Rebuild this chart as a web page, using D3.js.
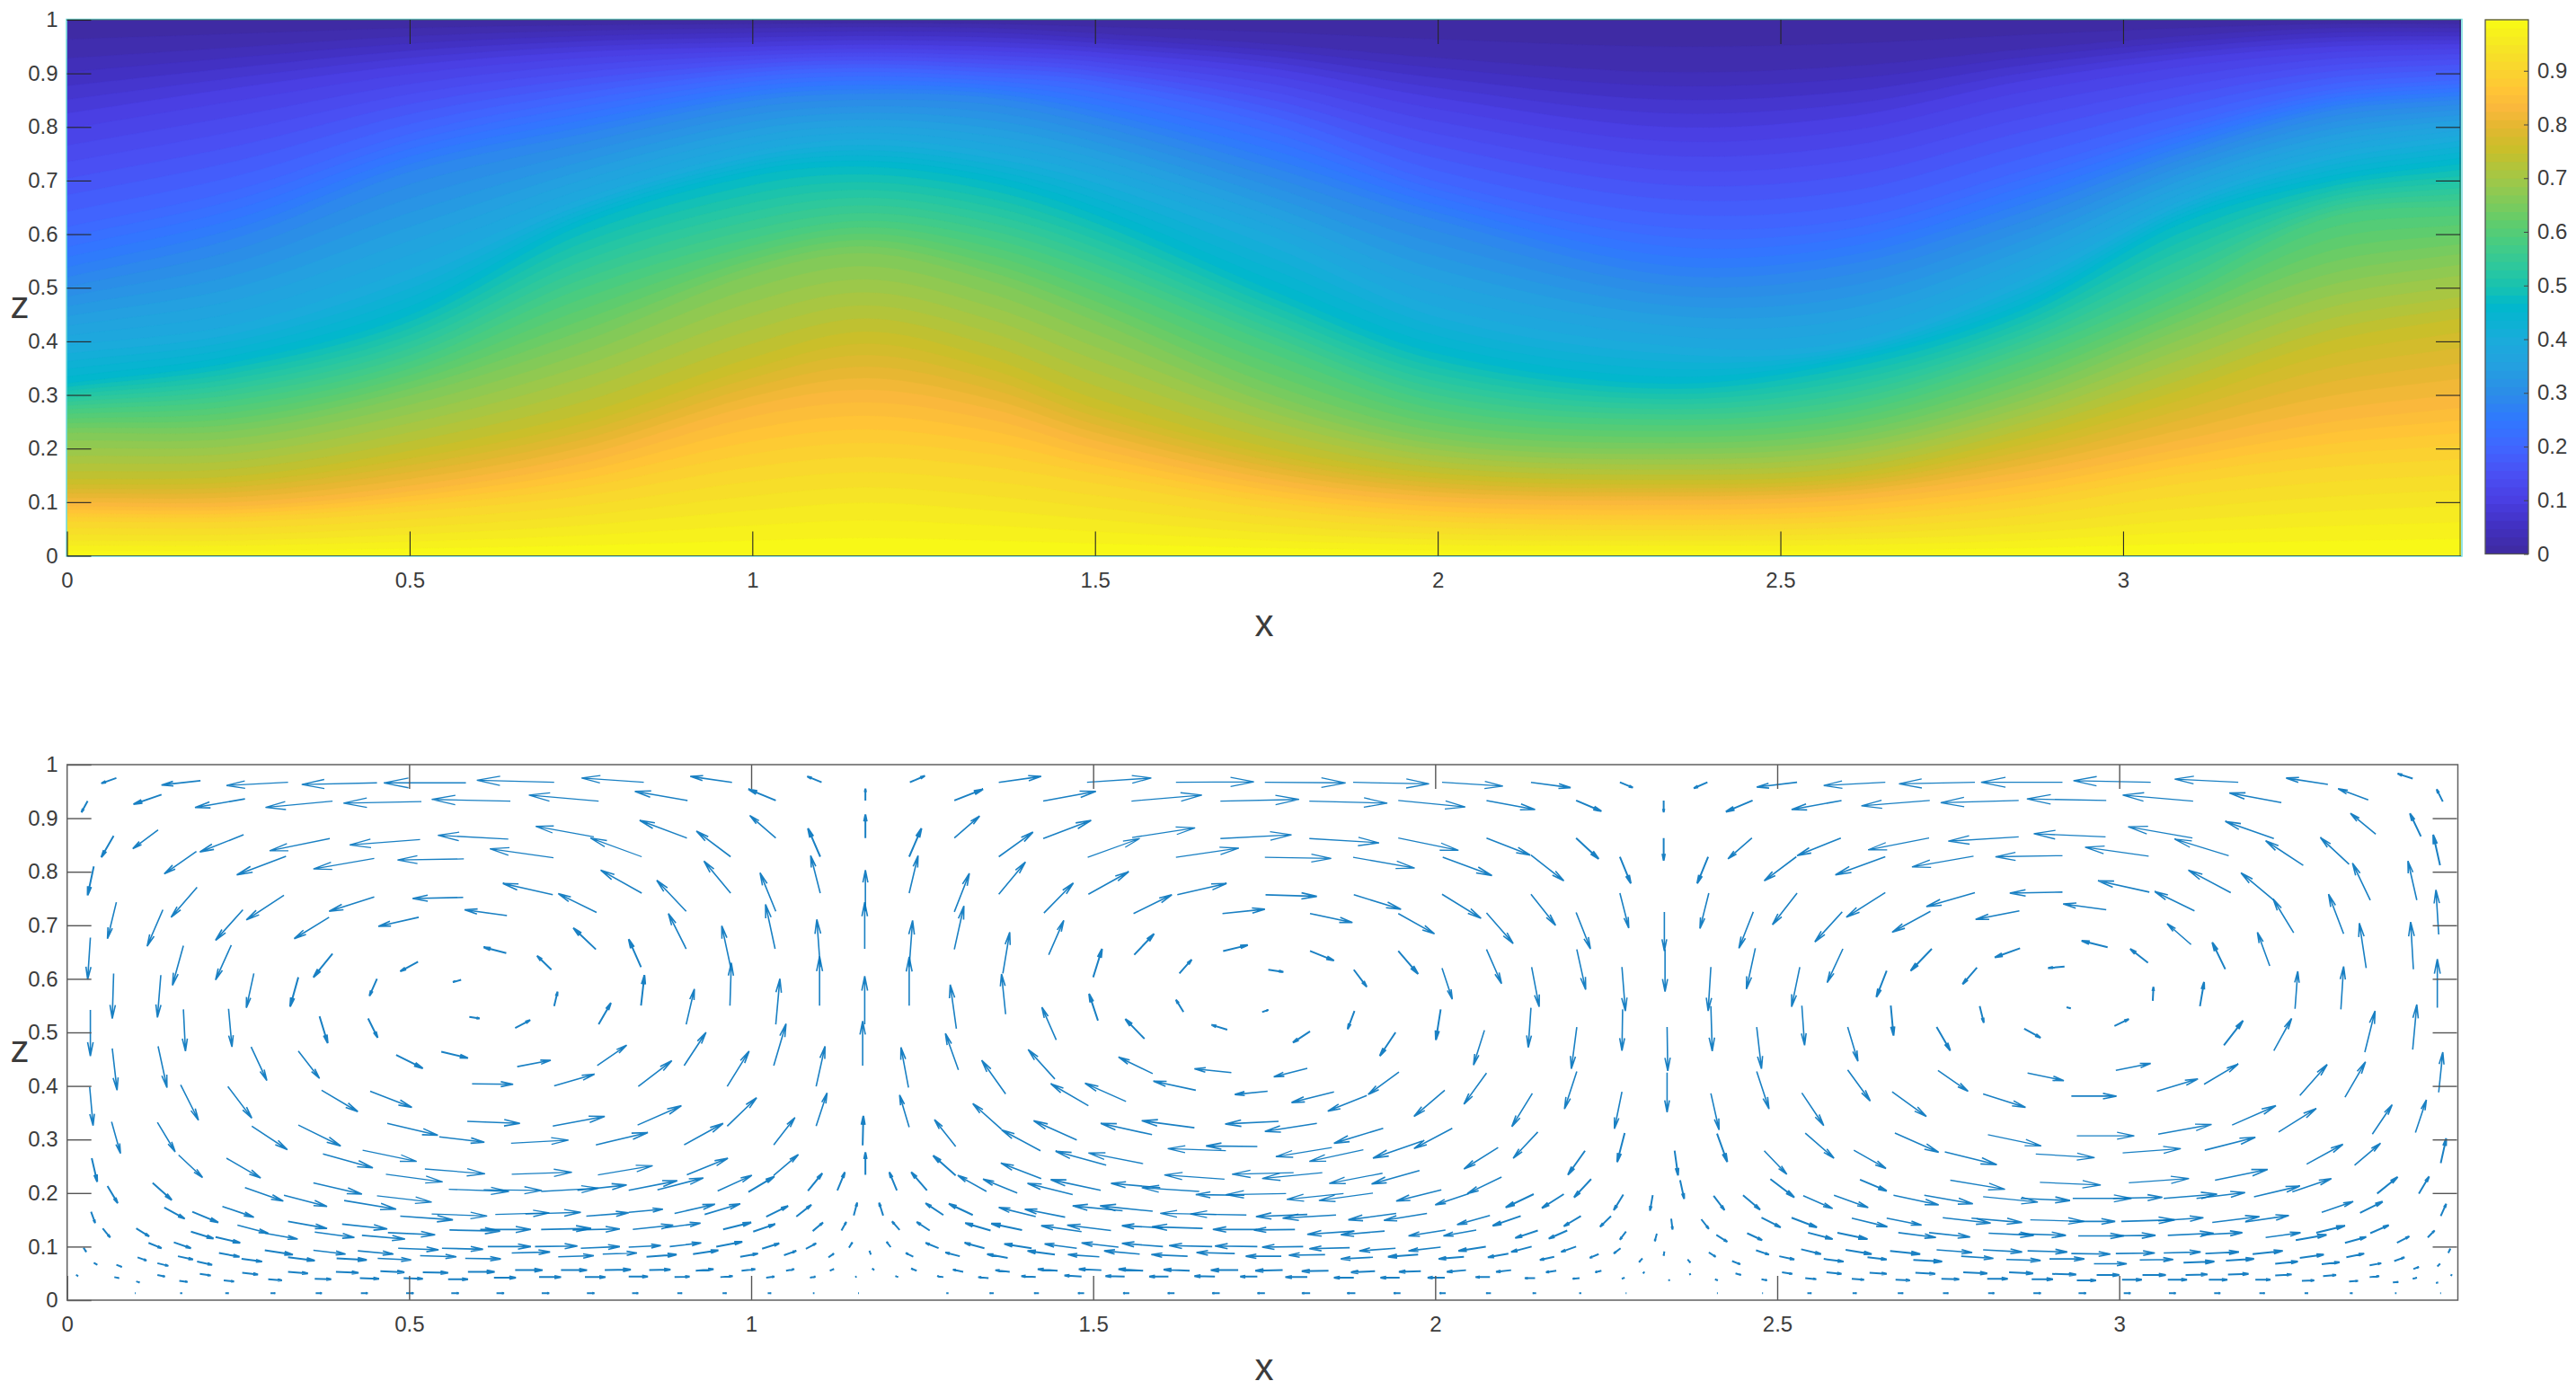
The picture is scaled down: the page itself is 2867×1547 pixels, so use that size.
<!DOCTYPE html>
<html><head><meta charset="utf-8">
<style>html,body{margin:0;background:#fff}svg{display:block}text{font-family:"Liberation Sans",Arial,sans-serif;fill:#3c3c3c}</style>
<script src="https://cdn.jsdelivr.net/npm/d3@7"></script></head><body>
<script>
// ---------- temperature panel: height z of iso-lines read at sample columns ----------
const fieldX=[0,.25,.5,.75,1,1.167,1.347,1.5,1.76,2,2.33,2.6,2.85,3.087,3.3,3.5];
const isoT=[1,.95,.9,.835,.755,.655,.58,.465,.395,.285,.2,.1,.03,0];
const isoZ=[
[0,0,0,0,0,0,0,0,0,0,0,0,0,0,0,0],
[.03,.03,.042,.06,.09,.105,.09,.072,.045,.032,.03,.032,.045,.07,.088,.1],
[.068,.068,.087,.119,.176,.195,.176,.144,.093,.068,.061,.068,.096,.144,.176,.192],
[.096,.096,.125,.18,.272,.3,.266,.208,.138,.106,.1,.11,.15,.208,.26,.29],
[.138,.144,.19,.256,.361,.41,.36,.285,.195,.15,.138,.15,.215,.304,.393,.438],
[.23,.235,.3,.4,.527,.566,.515,.44,.3,.22,.2,.22,.304,.425,.527,.566],
[.272,.29,.36,.496,.59,.623,.59,.527,.393,.285,.253,.278,.374,.5,.63,.652],
[.323,.365,.452,.62,.712,.729,.7,.64,.497,.38,.323,.365,.46,.625,.7,.735],
[.387,.425,.527,.66,.75,.773,.75,.706,.59,.457,.387,.393,.508,.66,.745,.783],
[.515,.59,.713,.783,.847,.86,.853,.815,.72,.623,.52,.54,.636,.75,.828,.85],
[.617,.687,.79,.853,.895,.904,.895,.879,.808,.7,.617,.63,.72,.808,.87,.89],
[.815,.866,.91,.936,.946,.95,.946,.936,.904,.847,.79,.81,.879,.923,.946,.952],
[.93,.95,.97,.98,.985,.987,.985,.975,.955,.93,.904,.915,.945,.97,.985,.985],
[1,1,1,1,1,1,1,1,1,1,1,1,1,1,1,1]];
const cmapV=[0,.05,.1,.15,.2,.25,.3,.35,.395,.465,.5,.54,.58,.62,.655,.7,.755,.8,.835,.87,.9,.95,1];
const cmapC=["#3f2a9f","#4130c0","#4a3ee2","#4a50f4","#4066ff","#3078ff","#2c8ce8","#24a0e0","#1caadc","#00b8cc","#18c2b0","#2fc89c","#45cc84","#60cc6c","#7ccb5c","#a0c848","#c8bf2a","#e4b730","#fab83c","#ffc535","#fbd230","#f5e625","#f9fb14"];
// ---------- ticks ----------
const xTicks=[0,.5,1,1.5,2,2.5,3];
const zTicks=[0,.1,.2,.3,.4,.5,.6,.7,.8,.9,1];
const cbTicks=[0,.1,.2,.3,.4,.5,.6,.7,.8,.9];
// ---------- velocity panel: x, z, u, v (thousandths) read row by row ----------
const r01=[72,975,-22,-10,195,970,-57,-8,323,967,-90,-6,453,966,-110,-3,583,966,-120,0,712,967,-113,4,843,967,-91,8,972,967,-61,11,1103,967,-21,11,1232,967,22,12,1362,967,62,11,1491,967,94,8,1621,967,114,1,1751,967,118,-1,1880,967,111,-3,2010,967,89,-7,2140,967,58,-10,2270,967,19,-10,2398,967,-20,-11,2529,967,-59,-9,2658,967,-90,-6,2789,967,-111,-3,2917,967,-119,0,3046,967,-113,3,3174,967,-93,6,3305,963,-61,12,3429,974,-22,9];
const r02=[30,932,-9,-21,138,944,-41,-18,260,936,-73,-16,388,932,-98,-12,518,931,-114,-3,648,932,-115,3,777,932,-102,11,907,933,-77,17,1036,933,-40,21,1167,933,0,22,1297,933,42,21,1427,932,77,18,1556,932,103,11,1686,932,115,3,1816,932,114,-4,1946,933,98,-12,2075,933,71,-17,2206,933,37,-20,2334,933,0,-22,2464,933,-39,-21,2594,933,-73,-17,2723,933,-100,-10,2853,933,-114,-4,2981,933,-116,3,3108,932,-103,11,3237,929,-76,18,3364,934,-44,21,3473,931,-9,23];
const r03=[68,867,-18,-40,133,878,-37,-35,258,869,-64,-32,384,862,-88,-23,516,860,-103,-10,645,861,-103,7,770,865,-85,20,906,863,-69,33,1036,863,-38,42,1167,863,0,44,1297,863,37,41,1427,862,70,34,1557,864,92,18,1686,862,104,7,1816,862,102,-8,1946,863,88,-23,2075,863,64,-32,2206,863,33,-39,2334,863,0,-42,2463,863,-35,-39,2593,863,-64,-33,2722,863,-89,-22,2853,865,-103,-8,2980,865,-105,6,3107,863,-94,21,3226,862,-71,32,3375,870,-37,39,3441,866,-16,43];
const r04=[39,810,-9,-54,189,838,-47,-42,320,829,-72,-35,449,825,-89,-20,580,824,-97,-2,711,826,-93,17,840,828,-75,35,970,828,-50,48,1101,828,-18,53,1231,828,18,53,1362,828,50,46,1492,827,76,35,1621,827,92,17,1751,827,97,-2,1880,827,90,-20,2011,827,72,-34,2140,831,48,-48,2270,828,16,-50,2399,828,-16,-50,2528,828,-47,-45,2658,828,-73,-34,2787,829,-90,-20,2917,830,-98,-2,3043,829,-93,17,3160,830,-79,31,3269,812,-55,46,3336,814,-42,50,3469,812,-10,57];
const r05=[72,743,-13,-68,190,771,-38,-56,317,756,-55,-46,449,753,-66,-27,579,752,-74,-2,710,757,-73,21,840,760,-60,43,970,760,-39,60,1101,760,-14,70,1231,760,13,70,1362,758,39,60,1493,758,59,42,1623,757,72,21,1752,757,75,-3,1881,757,69,-27,2010,758,57,-45,2140,758,36,-58,2270,760,13,-65,2400,760,-13,-66,2529,760,-36,-59,2658,761,-57,-46,2789,761,-71,-26,2917,762,-77,-2,3044,762,-75,21,3163,761,-62,42,3226,747,-48,51,3367,747,-26,69,3435,747,-13,73];
const r06=[140,729,-23,-68,257,729,-40,-57,383,715,-51,-40,514,715,-59,-17,643,718,-62,11,774,724,-56,35,905,726,-43,58,1036,726,-23,72,1167,726,0,77,1297,725,22,72,1428,723,43,56,1559,722,56,35,1689,722,62,8,1817,722,62,-17,1946,722,53,-38,2075,723,39,-57,2206,724,21,-68,2335,725,0,-73,2465,725,-21,-68,2595,725,-40,-56,2724,726,-56,-39,2854,727,-64,-16,2981,729,-63,11,3110,727,-58,36,3255,686,-30,63,3328,684,-22,74,3467,683,-4,83];
const r07=[34,677,-4,-78,170,662,-16,-74,240,663,-23,-65,388,647,-28,-44,513,632,-26,-18,642,648,-33,11,773,655,-33,40,905,656,-26,66,1035,656,-14,83,1166,656,0,87,1297,655,14,81,1435,645,22,64,1560,645,29,39,1690,652,36,11,1817,652,35,-18,1946,652,29,-43,2075,655,22,-64,2207,655,13,-75,2336,655,0,-79,2468,657,-13,-76,2596,656,-23,-63,2726,656,-31,-41,2855,657,-37,-17,2983,659,-38,12,3105,664,-35,39,3220,624,-18,63,3361,620,-10,84,3430,618,-4,88];
const r08=[68,610,-2,-84,137,607,-5,-79,273,610,-11,-64,338,603,-12,-55,453,600,-11,-32,576,598,-12,-4,708,617,-21,26,839,622,-18,52,970,622,-13,77,1101,622,-5,89,1231,622,5,87,1368,610,10,77,1500,603,13,53,1626,610,18,26,1756,617,22,-4,1881,617,19,-32,2010,620,15,-58,2141,622,11,-74,2273,622,5,-82,2403,622,-4,-82,2533,622,-12,-74,2660,615,-15,-49,2792,621,-21,-31,2920,623,-24,-3,3042,630,-26,26,3155,618,-19,50];
const r09=[34,542,0,-86,170,543,3,-78,236,544,5,-71,369,530,12,-50,440,526,14,-36,588,529,15,-3,655,508,22,15,712,549,5,27,777,515,18,40,839,550,5,57,969,550,2,80,1100,550,0,92,1231,550,0,91,1372,534,-6,75,1507,522,-13,50,1632,538,-11,23,1747,538,9,4,1882,540,-10,-34,2008,543,-7,-57,2140,546,-4,-74,2274,543,-1,-77,2403,549,2,-84,2536,550,4,-74,2666,550,4,-56,2796,549,6,-31,2923,547,6,-2,3049,559,1,26,3118,549,6,45,3257,544,4,70,3324,543,4,80,3465,546,0,91];
const r10=[66,470,7,-78,133,474,13,-77,269,473,23,-63,338,465,31,-51,481,458,39,-25,547,464,39,-12,658,436,49,12,775,438,43,38,905,515,12,66,1036,515,6,85,1166,515,0,90,1300,507,-9,82,1446,486,-21,61,1575,488,-28,37,1696,505,-23,9,1817,502,-25,-21,1942,500,-23,-44,2072,504,-16,-65,2207,510,-8,-78,2339,510,1,-82,2470,510,7,-78,2603,510,15,-64,2733,510,20,-44,2861,507,24,-17,2993,512,21,13,3153,476,28,46,3226,466,26,60,3359,463,15,77,3429,468,6,84,3467,388,6,75];
const r11=[902,438,32,62,1033,438,18,78,1163,438,0,83,1303,430,-19,68,1444,413,-39,55,1587,423,-50,31,1702,425,-54,7,1813,433,-49,-16,1947,426,-45,-42,2075,424,-33,-58,2207,427,-18,-70,2339,425,0,-74,2470,427,18,-70,2603,430,33,-58,2735,429,44,-39,2866,424,53,-14,2995,429,51,13,3124,403,50,38,3264,382,40,58,3330,379,30,66];
const r12=[33,398,5,-72,166,402,26,-66,235,399,35,-59,372,392,53,-40,443,390,61,-30,592,404,60,-1,712,400,59,22,835,399,49,48,965,399,32,66,1095,399,13,75,1230,397,-11,75,1372,385,-35,63,1493,363,-55,41,1548,371,-60,34,1650,392,-62,17,1755,390,-48,-6,1852,389,-62,-20,1900,382,-57,-29,2014,392,-45,-49,2142,386,-30,-62,2273,389,-11,-69,2403,386,12,-68,2536,387,32,-61,2668,389,50,-46,2801,385,62,-25,2930,381,66,0,3055,390,60,23];
const r13=[65,333,13,-59,132,332,26,-55,270,325,52,-44,338,327,62,-39,468,330,74,-22,585,334,77,-4,710,325,76,18,834,327,64,36,965,325,43,53,1095,325,16,62,1231,323,-14,60,1366,319,-42,48,1586,309,-75,21,1648,322,-77,13,1771,334,-78,-5,1827,330,-76,-15,1924,321,-72,-28,2025,321,-56,-38,2150,314,-36,-49,2277,312,-11,-54,2412,311,15,-53,2541,312,42,-47,2672,312,64,-36,2808,309,78,-21,2938,307,84,0,3057,310,78,18,3165,327,64,36,3233,314,55,44,3370,310,29,55,3433,313,16,61,3470,256,8,46];
const r14=[36,265,8,-44,163,271,35,-42,233,265,50,-37,374,273,73,-26,432,280,79,-21,544,305,66,-10,649,293,84,6,773,290,76,23,902,290,57,40,1033,290,31,51,1163,289,1,55,1299,287,-31,50,1423,279,-57,39,1476,299,-63,36,1694,279,-85,4,1740,287,-75,1,1849,285,-82,-17,1895,281,-79,-22,1981,297,-72,-32,2092,285,-50,-40,2219,279,-25,-45,2350,279,5,-46,2481,279,33,-44,2612,280,47,-34,2745,277,76,-24,2878,273,86,-7,3005,275,85,8,3125,280,74,24,3274,254,53,37,3344,252,38,41];
const r15=[466,235,83,-14,523,245,88,-9,650,235,88,4,776,234,80,17,906,234,60,31,1033,233,36,39,1167,234,0,42,1299,233,-33,37,1424,227,-59,29,1519,252,-74,26,1573,255,-80,20,1692,226,-88,8,1793,238,-90,-3,1835,238,-88,-11,1923,237,-78,-19,1977,242,-70,-25,2097,230,-50,-31,2049,199,-49,-21,2228,226,-25,-34,2358,224,6,-35,2490,226,35,-34,2621,225,39,-21,2753,224,80,-17,2884,220,89,-5,3014,219,88,8,3140,224,77,20,3377,199,30,31,3438,199,15,32];
const r16=[59,213,15,-32,125,219,28,-32,260,210,56,-25,360,219,71,-21,453,195,80,-12,558,207,88,-4,609,206,85,-1,693,203,84,6,746,205,72,10,821,205,71,18,863,206,67,22,951,204,50,29,996,202,38,29,1083,204,21,33,1126,205,11,34,1213,205,-11,34,1257,205,-23,34,1344,203,-42,30,1389,200,-50,26,1470,197,-66,21,1511,205,-73,20,1598,210,-72,8,1655,203,-84,7,1721,196,-71,1,1782,199,-88,-2,1866,199,-83,-11,1909,200,-79,-14,2009,206,-66,-21,2144,198,-41,-25,2188,198,-32,-26,2275,197,-14,-29,2318,196,-4,-29,2407,195,16,-27,2450,196,25,-27,2538,195,43,-24,2583,196,50,-23,2670,196,66,-18,2715,196,71,-16,2801,193,80,-10,2856,190,72,-4,2932,190,86,0,2991,190,72,2,3065,190,78,8,3113,190,71,11,3197,193,67,20,3253,202,57,25];
const r17=[35,165,6,-21,142,173,30,-21,183,165,38,-20,227,175,46,-20,317,196,63,-21,405,186,76,-16,487,157,77,-7,533,161,81,-4,626,160,79,3,670,161,81,3,759,157,62,6,821,164,50,6,888,162,59,17,932,160,52,20,1022,156,32,20,1066,156,22,22,1150,158,5,24,1193,158,-6,24,1281,159,-26,22,1324,159,-35,21,1416,156,-54,17,1459,155,-59,15,1543,167,-73,9,1587,166,-77,10,1680,160,-82,2,1724,159,-82,2,1813,160,-75,-4,1855,159,-78,-6,1943,162,-70,-12,1988,162,-63,-13,2080,158,-48,-17,2125,157,-41,-18,2213,157,-25,-19,2257,157,-16,-20,2345,152,2,-20,2389,151,11,-18,2477,154,28,-18,2521,154,37,-18,2609,153,52,-16,2660,153,51,-13,2742,154,70,-10,2784,153,74,-8,2870,150,79,-3,2927,147,67,0,3003,147,78,3,3057,148,66,6,3136,145,69,11,3184,146,64,12,3296,164,46,20,3352,163,33,21,3470,157,8,23];
const r18=[52,134,11,-17,101,134,19,-15,181,128,33,-13,217,118,36,-11,249,140,45,-15,289,125,48,-11,323,147,57,-13,362,127,58,-10,402,142,66,-9,431,121,63,-7,469,126,69,-4,559,131,74,-2,604,132,74,0,693,132,73,2,739,131,69,2,827,132,59,8,874,135,52,9,959,132,41,13,1003,128,32,14,1090,129,15,16,1132,130,7,16,1217,131,-11,16,1261,130,-19,16,1350,130,-37,14,1396,131,-45,12,1483,128,-59,11,1526,130,-64,10,1602,135,-60,4,1660,134,-74,3,1740,132,-65,0,1795,132,-60,-1,1882,129,-69,-6,1926,129,-64,-7,2015,131,-54,-11,2060,131,-48,-11,2150,130,-33,-14,2193,130,-27,-15,2279,128,-9,-15,2324,124,-3,-14,2411,122,16,-13,2456,125,22,-13,2545,126,36,-12,2588,126,44,-12,2677,126,55,-9,2722,126,60,-8,2809,125,66,-4,2853,124,69,-3,2940,120,67,0,2986,120,67,1,3071,121,67,4,3120,122,60,4,3214,117,51,9,3258,112,45,10,3288,126,42,13,3330,107,31,11,3367,125,27,15,3406,107,18,12,3451,117,10,13];
const r19=[24,98,4,-8,119,107,19,-10,156,108,25,-11,222,88,30,-7,289,93,41,-8,360,93,47,-7,425,92,52,-6,484,97,59,-3,548,97,60,-2,615,100,63,0,684,100,62,1,751,97,57,3,821,99,47,3,881,100,46,7,949,100,38,9,1016,96,25,10,1080,96,15,10,1143,98,5,10,1204,99,-6,10,1274,97,-19,10,1341,97,-29,10,1410,97,-40,8,1476,97,-47,8,1537,99,-54,8,1602,100,-60,6,1674,100,-63,2,1740,100,-62,1,1807,100,-60,-1,1875,98,-59,-2,1942,97,-53,-5,2008,99,-47,-7,2074,100,-40,-8,2141,100,-30,-10,2206,100,-22,-10,2271,97,-10,-10,2335,91,-1,-8,2400,89,10,-8,2469,93,19,-8,2535,95,29,-9,2600,94,38,-8,2665,92,44,-6,2733,94,52,-5,2801,94,57,-4,2866,92,58,-2,2930,87,57,-1,2995,87,57,1,3065,88,54,2,3126,87,49,3,3195,86,44,6,3264,79,35,6,3332,80,26,7];
const r20=[103,80,13,-6,162,82,22,-6,190,72,22,-6,255,77,30,-5,323,80,39,-6,394,78,44,-3,454,78,49,-3,516,83,53,-2,582,78,52,-1,650,88,56,2,718,81,52,2,783,86,50,2,847,81,44,4,915,86,37,7,984,81,26,6,1048,84,18,8,1113,80,8,7,1175,85,-2,7,1237,81,-11,7,1305,82,-21,7,1375,79,-30,7,1444,85,-40,7,1509,81,-46,4,1568,86,-52,6,1638,82,-53,3,1707,87,-56,2,1775,82,-52,0,1839,85,-53,-1,1909,80,-47,-3,1975,85,-44,-4,2042,81,-37,-4,2107,87,-30,-7,2174,81,-21,-6,2239,86,-13,-7,2303,78,-5,-7,2369,76,4,-6,2434,73,12,-6,2503,82,22,-6,2568,77,29,-5,2632,80,28,-4,2699,75,42,-3,2769,82,47,-4,2835,76,50,-2,2898,77,51,0,2963,68,48,0,3030,75,49,1,3094,70,45,2,3156,74,41,3,3228,68,33,4,3296,67,26,4,3366,65,17,4,3402,73,15,7,3430,58,8,4,3465,63,4,5,3481,88,3,8];
const r21=[39,70,5,-4,72,66,8,-4,132,69,16,-5,132,47,11,-3,194,49,16,-3,256,51,23,-3,323,53,29,-3,393,53,33,-2,458,54,35,-2,520,52,37,-1,586,53,39,0,655,56,40,0,722,56,38,0,786,56,38,1,851,56,31,1,919,55,26,3,986,55,20,3,1051,55,12,3,1115,55,6,3,1180,56,-3,3,1242,55,-8,4,1310,53,-15,4,1378,53,-21,3,1448,55,-29,3,1512,56,-33,2,1573,55,-36,3,1641,55,-38,2,1712,56,-40,0,1777,56,-40,-1,1844,55,-39,-1,1912,54,-35,-2,1979,54,-32,-1,2045,56,-28,-3,2111,56,-22,-3,2177,55,-15,-3,2243,55,-9,-3,2306,53,-2,-3,2372,50,1,-3,2439,50,8,-3,2507,52,15,-3,2572,52,22,-3,2635,51,25,-2,2702,51,29,-2,2772,52,35,-2,2839,52,35,-2,2902,49,35,-1,2967,47,33,0,3034,47,34,0,3097,47,32,1,3159,48,30,1,3228,46,24,2,3298,45,19,2,3366,43,14,2,3429,40,6,2,3485,45,1,3];
const r22=[13,47,3,-2,69,43,7,-2,101,35,5,-2,164,36,12,-2,229,37,15,-2,294,39,20,-2,362,40,24,-1,428,41,28,-1,492,41,28,-1,557,39,29,0,624,42,32,0,690,43,32,0,757,43,30,0,821,44,28,0,888,43,22,1,955,43,18,2,1022,42,12,2,1086,42,8,2,1152,43,2,1,1215,43,-4,2,1281,43,-9,2,1347,41,-15,2,1416,43,-21,2,1483,44,-25,2,1546,44,-28,1,1610,44,-28,0,1678,44,-30,1,1740,44,-25,0,1813,43,-32,0,1881,42,-29,0,1948,42,-28,0,2014,42,-25,0,2080,43,-21,0,2146,41,-15,0,2211,41,-10,-1,2277,42,-4,-2,2342,39,0,-3,2409,39,4,-2,2477,39,8,-2,2541,41,16,-2,2609,40,18,-2,2673,38,21,-1,2740,40,26,-1,2807,40,30,0,2872,39,31,0,2938,37,28,0,3004,38,29,0,3071,38,28,0,3131,38,27,0,3199,38,22,0,3267,36,18,1,3336,35,13,1,3400,33,8,1,3463,32,3,1];
// bottom row, evenly spaced nodes: horizontal component only
const bottomRowZ=13, bottomRowX0=33, bottomRowDx=66.08;
const bottomRowU=[0,1,3,5,7,9,10,11,11,11,11,11,9,7,6,5,2,1,0,-3,-6,-7,-9,-9,-10,-11,-11,-12,-12,-10,-9,-7,-5,-3,-1,0,1,1,6,6,8,8,9,11,11,10,10,9,8,5,4,2,1];

// ---------- build ----------
const W=2867,H=1547;
const svg=d3.select("body").append("svg").attr("width",W).attr("height",H);
const color=d3.scaleLinear().domain(cmapV).range(cmapC).interpolate(d3.interpolateRgb);
const FONT='"Liberation Sans",Arial,sans-serif';

const A={l:74.5,r:2739,t:22,b:618.5,xMax:3.493};
const B={l:74.7,r:2735.5,t:851,b:1447,xMax:3.495};
const xA=d3.scaleLinear().domain([0,A.xMax]).range([A.l,A.r]);
const zA=d3.scaleLinear().domain([0,1]).range([A.b,A.t]);
const xB=d3.scaleLinear().domain([0,B.xMax]).range([B.l,B.r]);
const zB=d3.scaleLinear().domain([0,1]).range([B.b,B.t]);

function hermite(xs,ys,x){
  const i=Math.max(0,Math.min(xs.length-2,d3.bisectRight(xs,x)-1));
  const h=xs[i+1]-xs[i],t=(x-xs[i])/h;
  const m=k=>k<=0?(ys[1]-ys[0])/(xs[1]-xs[0]):k>=xs.length-1?(ys[k]-ys[k-1])/(xs[k]-xs[k-1]):(ys[k+1]-ys[k-1])/(xs[k+1]-xs[k-1]);
  const t2=t*t,t3=t2*t;
  return (2*t3-3*t2+1)*ys[i]+(t3-2*t2+t)*h*m(i)+(-2*t3+3*t2)*ys[i+1]+(t3-t2)*h*m(i+1);
}
const nx=440,nz=180,grid=new Float64Array(nx*nz);
for(let i=0;i<nx;i++){
  const x=i/(nx-1)*A.xMax;
  const hs=isoZ.map(r=>hermite(fieldX,r,x));
  for(let k=1;k<hs.length;k++) if(hs[k]<=hs[k-1]) hs[k]=hs[k-1]+1e-4;
  const tOfZ=d3.scaleLinear().domain(hs).range(isoT).clamp(true);
  for(let j=0;j<nz;j++) grid[i+j*nx]=tOfZ(j/(nz-1));
}
svg.append("defs").append("clipPath").attr("id","clipA").append("rect").attr("x",A.l).attr("y",A.t).attr("width",A.r-A.l).attr("height",A.b-A.t);
const levels=d3.range(0,1.0001,1/64);
const contours=d3.contours().size([nx,nz]).smooth(true).thresholds(levels)(Array.from(grid));
const proj=d3.geoTransform({point(px,py){this.stream.point(xA((px-.5)/(nx-1)*A.xMax),zA((py-.5)/(nz-1)));}});
const path=d3.geoPath(proj);
const gA=svg.append("g").attr("clip-path","url(#clipA)");
gA.append("rect").attr("x",A.l).attr("y",A.t).attr("width",A.r-A.l).attr("height",A.b-A.t).attr("fill",color(0));
gA.selectAll("path").data(contours).join("path").attr("d",path).attr("fill",d=>color(d.value+.5/64)).attr("stroke",d=>color(d.value+.5/64)).attr("stroke-width",.4);

svg.append("rect").attr("x",A.l-.5).attr("y",A.t-.5).attr("width",A.r-A.l+1.5).attr("height",A.b-A.t+1).attr("fill","none").attr("stroke","#6fdcdc").attr("stroke-width",1.5);
[[A.l,A.t,A.r,A.t],[A.r-1,A.t,A.r-1,A.b],[A.l,A.b,A.r,A.b]].forEach(p=>svg.append("line").attr("x1",p[0]).attr("y1",p[1]).attr("x2",p[2]).attr("y2",p[3]).attr("stroke","#262626").attr("stroke-opacity",.6).attr("stroke-width",1));

function axes(P,x,z,col,w){
  const g=svg.append("g");
  const style=s=>{s.select(".domain").remove();s.selectAll("line").attr("stroke",col).attr("stroke-width",w);
    s.selectAll("text").attr("font-size",24).attr("fill","#3c3c3c").style("font-family",FONT);};
  g.append("g").attr("transform",`translate(0,${P.b})`).call(d3.axisBottom(x).tickValues(xTicks).tickFormat(String).tickSize(-27).tickPadding(18)).call(style);
  g.append("g").attr("transform",`translate(0,${P.t})`).call(d3.axisTop(x).tickValues(xTicks.slice(1)).tickFormat("").tickSize(-27)).call(style);
  g.append("g").attr("transform",`translate(${P.l},0)`).call(d3.axisLeft(z).tickValues(zTicks).tickFormat(String).tickSize(-27).tickPadding(10)).call(style);
  g.append("g").attr("transform",`translate(${P.r-1},0)`).call(d3.axisRight(z).tickValues(zTicks.slice(1,-1)).tickFormat("").tickSize(-27)).call(style);
}
axes(A,xA,zA,"#262626",1.1);

const cb={l:2766,r:2814,t:22,b:616.5,max:.995};
const zC=d3.scaleLinear().domain([0,cb.max]).range([cb.b,cb.t]);
const cells=d3.range(0,64);
svg.append("g").selectAll("rect").data(cells).join("rect")
 .attr("x",cb.l).attr("width",cb.r-cb.l)
 .attr("y",i=>zC((i+1)/64*cb.max)-.5).attr("height",i=>zC(i/64*cb.max)-zC((i+1)/64*cb.max)+.8)
 .attr("fill",i=>color((i+.5)/64));
svg.append("rect").attr("x",cb.l).attr("y",cb.t).attr("width",cb.r-cb.l).attr("height",cb.b-cb.t).attr("fill","none").attr("stroke","#555").attr("stroke-width",1.3);
svg.append("g").attr("transform",`translate(${cb.r},0)`).call(d3.axisRight(zC).tickValues(cbTicks).tickFormat(String).tickSize(-5).tickPadding(10))
 .call(s=>{s.select(".domain").remove();s.selectAll("line").attr("stroke","#444");s.selectAll("text").attr("font-size",24).attr("fill","#3c3c3c").style("font-family",FONT);});

const rows=[r01,r02,r03,r04,r05,r06,r07,r08,r09,r10,r11,r12,r13,r14,r15,r16,r17,r18,r19,r20,r21,r22];
const arrows=[];
rows.forEach(r=>{for(let i=0;i+3<r.length;i+=4) arrows.push({x:r[i]/1000,z:r[i+1]/1000,u:r[i+2]/1000,v:r[i+3]/1000});});
bottomRowU.forEach((u,i)=>arrows.push({x:(bottomRowX0+i*bottomRowDx)/1000,z:bottomRowZ/1000,u:u/1000,v:0}));
const alpha=.3,beta=.2;
function arrowPath(a){
  const x0=xB(a.x),y0=zB(a.z),x1=xB(a.x+a.u),y1=zB(a.z+a.v);
  const dx=x1-x0,dy=y1-y0;
  const bx=x1-alpha*dx,by=y1-alpha*dy,nxx=-beta*alpha*dy,nyy=beta*alpha*dx;
  return `M${x0},${y0}L${x1},${y1}M${bx+nxx},${by+nyy}L${x1},${y1}L${bx-nxx},${by-nyy}`;
}
const arrowLen=a=>Math.hypot(xB(a.u)-xB(0),zB(a.v)-zB(0));
svg.append("g").attr("fill","none").attr("stroke","#0072BD").attr("stroke-opacity",.9)
 .selectAll("path").data(arrows).join("path").attr("d",arrowPath)
 .attr("stroke-width",a=>arrowLen(a)<35?2:arrowLen(a)<60?1.6:1.3);

axes(B,xB,zB,"#555",1.4);
svg.append("rect").attr("x",B.l).attr("y",B.t).attr("width",B.r-B.l).attr("height",B.b-B.t).attr("fill","none").attr("stroke","#606060").attr("stroke-width",1.5);

[["x",1407,708],["x",1407,1536],["z",22,354],["z",22,1182]].forEach(d=>svg.append("text").text(d[0]).attr("x",d[1]).attr("y",d[2]).attr("text-anchor","middle").attr("font-size",42).attr("fill","#262626"));
</script></body></html>
